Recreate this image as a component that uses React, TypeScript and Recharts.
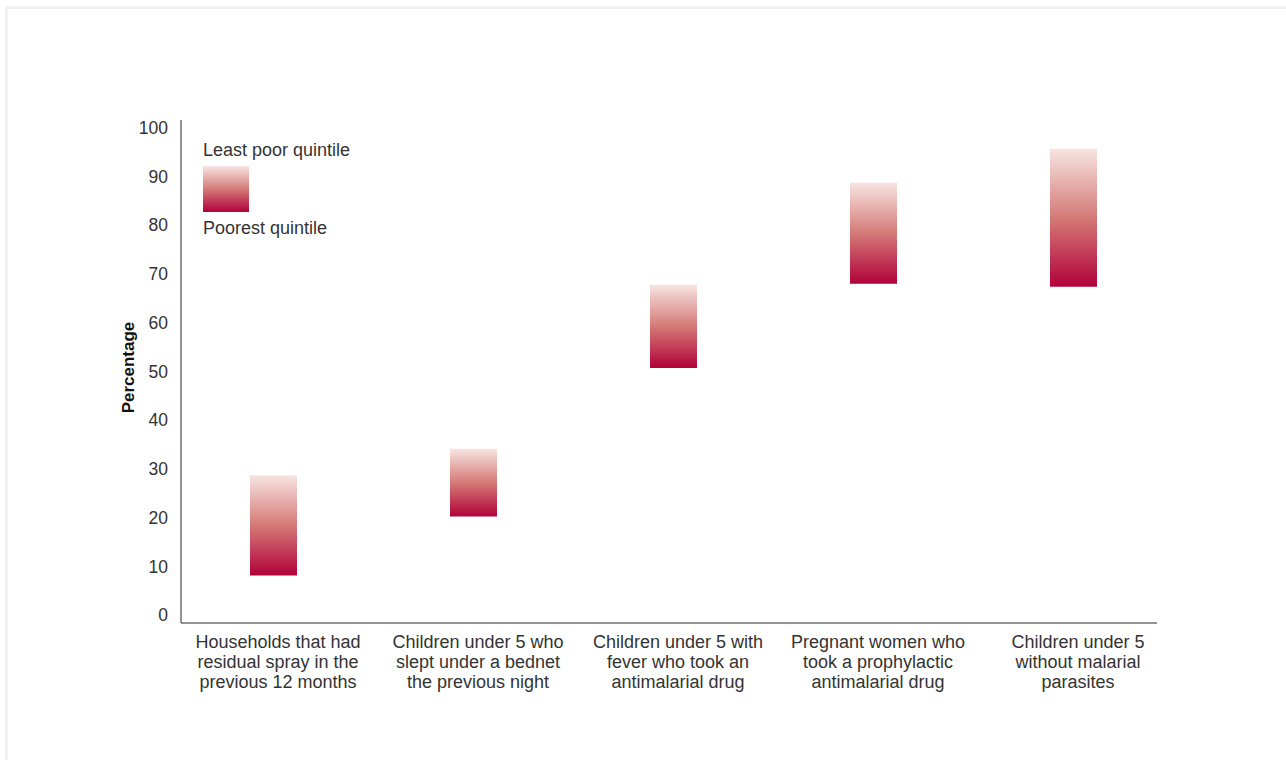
import React from 'react'
import { BarChart, Bar, XAxis, YAxis } from 'recharts'

const categories = [
  'Households that had\nresidual spray in the\nprevious 12 months',
  'Children under 5 who\nslept under a bednet\nthe previous night',
  'Children under 5 with\nfever who took an\nantimalarial drug',
  'Pregnant women who\ntook a prophylactic\nantimalarial drug',
  'Children under 5\nwithout malarial\nparasites',
]
const poorestQuintile = [8.1, 20.2, 50.7, 68.0, 67.4]
const leastPoorQuintile = [28.7, 34.1, 67.8, 88.7, 95.7]
const yTicks = [0, 10, 20, 30, 40, 50, 60, 70, 80, 90, 100]

const chartData = categories.map((name, i) => ({
  x: i,
  name,
  range: [poorestQuintile[i], leastPoorQuintile[i]],
}))

const FONT = 'Arial, "Liberation Sans", sans-serif'
const TEXT = '#333333'
const AXIS = '#6e6e6e'

function CategoryTick(props: any) {
  const { x, y, payload } = props
  const lines = categories[payload.value].split('\n')
  return (
    <text x={x + 4} y={y} textAnchor="middle" fontSize={18} fill={TEXT} fontFamily={FONT}>
      {lines.map((l, i) => (
        <tspan key={i} x={x + 4} dy={i === 0 ? 25 : 20}>
          {l}
        </tspan>
      ))}
    </text>
  )
}

function GradientDefs() {
  return (
    <defs>
      <linearGradient id="quintileGrad" x1="0" y1="0" x2="0" y2="1">
        <stop offset="0%" stopColor="#f7e4e0" />
        <stop offset="50%" stopColor="#d47a77" />
        <stop offset="100%" stopColor="#b1023a" />
      </linearGradient>
    </defs>
  )
}

export default function App() {
  return (
    <div style={{ position: 'fixed', left: 0, top: 0, width: 1286, height: 760, overflow: 'hidden', background: '#fff' }}>
      <div
        style={{
          position: 'absolute',
          left: 5,
          top: 6,
          width: 1320,
          height: 800,
          border: '3px solid #f1f1f1',
        }}
      />
      <div style={{ position: 'absolute', left: 0, top: 0 }}>
        <BarChart
          width={1286}
          height={760}
          data={chartData}
          margin={{ top: 120, right: 129, bottom: 57, left: 121 }}
        >
          <GradientDefs />
          <XAxis
            dataKey="x"
            type="number"
            domain={[-0.465, 4.415]}
            allowDataOverflow
            ticks={[0, 1, 2, 3, 4]}
            interval={0}
            height={80}
            tickLine={false}
            tickSize={0}
            tickMargin={0}
            axisLine={{ stroke: AXIS, strokeWidth: 1.5 }}
            tick={<CategoryTick />}
          />
          <YAxis
            type="number"
            domain={[-1.64, 101.6]}
            allowDataOverflow
            ticks={yTicks}
            interval={0}
            width={60}
            tickLine={false}
            tickSize={0}
            tickMargin={13}
            axisLine={{ stroke: AXIS, strokeWidth: 1.5 }}
            tick={{ fontSize: 17.5, fill: TEXT, fontFamily: FONT }}
            label={({ viewBox }: any) => (
              <text
                x={viewBox.x + 7}
                y={viewBox.y + viewBox.height / 2 - 4}
                transform={`rotate(-90, ${viewBox.x + 7}, ${viewBox.y + viewBox.height / 2 - 4})`}
                textAnchor="middle"
                dominantBaseline="central"
                fontSize={17}
                fontWeight="bold"
                fill="#111"
                fontFamily={FONT}
              >
                Percentage
              </text>
            )}
          />
          <Bar dataKey="range" barSize={47} fill="url(#quintileGrad)" isAnimationActive={false} />
        </BarChart>
      </div>
      <div style={{ position: 'absolute', left: 203, top: 139, fontFamily: FONT, fontSize: 18, color: TEXT, lineHeight: '22px' }}>
        Least poor quintile
      </div>
      <div
        style={{
          position: 'absolute',
          left: 203,
          top: 166,
          width: 46,
          height: 46,
          background: 'linear-gradient(to bottom, #f7e4e0 0%, #d47a77 50%, #b1023a 100%)',
        }}
      />
      <div style={{ position: 'absolute', left: 203, top: 217, fontFamily: FONT, fontSize: 18, color: TEXT, lineHeight: '22px' }}>
        Poorest quintile
      </div>
    </div>
  )
}
